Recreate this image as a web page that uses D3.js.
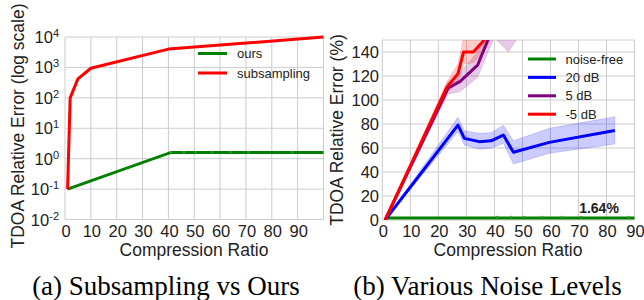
<!DOCTYPE html>
<html>
<head>
<meta charset="utf-8">
<script src="https://cdn.jsdelivr.net/npm/d3@7"></script>
<style>
  body { margin: 0; background: #fff; }
  text { font-family: "Liberation Sans", Arial, sans-serif; fill: #222; }
  .caption { font-family: "Liberation Serif", "Times New Roman", serif; fill: #000; }
</style>
</head>
<body>
<script>
const width = 644,
      height = 300;

// ---- data: (a) subsampling vs ours (log scale)
const subRatio = [1, 2, 5, 10, 40, 100];
const subError = [0.1, 100, 420, 940, 4000, 10000];
const oursRatio = [1, 41, 46, 50.5, 57, 64, 71, 88, 100];
const oursError = [0.1, 1.6, 1.6, 1.6, 1.6, 1.6, 1.6, 1.6, 1.6];
const logTickExp = [-2, -1, 0, 1, 2, 3, 4];
const xTicksA = [0, 10, 20, 30, 40, 50, 60, 70, 80, 90];

// ---- data: (b) various noise levels
const freeRatio = [1, 41, 46, 50.5, 57, 64, 71, 88, 95];
const freeError = [1.64, 1.64, 1.64, 1.64, 1.64, 1.64, 1.64, 1.64, 1.64];
const db20Ratio = [1, 27, 29.3, 34.6, 38.8, 43.2, 46.8, 59.6, 83];
const db20Error = [0, 79, 68, 65.3, 66, 70.8, 56.4, 64.7, 74.5];
const db20Low   = [0, 73.6, 62.5, 58.9, 59.7, 63.9, 46.7, 55.6, 63.3];
const db20High  = [0, 85.6, 74.4, 72.2, 72.8, 79, 66, 76.4, 86];
const db5Ratio = [1, 23.5, 27.8, 34, 37, 40, 45, 50];
const db5Error = [0, 110, 115.5, 129, 146, 165, 162, 172];
const db5Low   = [0, 105, 107, 119, 136, 152, 140, 158];
const db5High  = [0, 115, 123, 140, 158, 180, 182, 188];
const dbm5Ratio = [1, 23, 27, 29, 32.5, 36, 40];
const dbm5Error = [0, 110.5, 122, 140, 140, 149, 165];
const dbm5Low   = [0, 106, 115, 130, 131, 140, 155];
const dbm5High  = [0, 115, 130, 152, 153, 160, 176];
const xTicksB = [0, 10, 20, 30, 40, 50, 60, 70, 80, 90];
const yTicksB = [0, 20, 40, 60, 80, 100, 120, 140];

const svg = d3.select("body")
  .append("svg")
  .attr("width", width)
  .attr("height", height);

const grid = "#cccccc";

/* ------------- (a) ------------ */

const xA = d3.scaleLinear().domain([0, 100]).range([65, 323.5]);
const yA = d3.scaleLog().domain([1e-2, 1e4]).range([219.5, 37]);

const gA = svg.append("g");

gA.selectAll("line.vg").data(xTicksA.concat([100])).enter()
  .append("line")
  .attr("x1", d => xA(d)).attr("x2", d => xA(d))
  .attr("y1", yA.range()[0]).attr("y2", yA.range()[1])
  .style("stroke", grid).style("stroke-width", 1);

gA.selectAll("line.hg").data(logTickExp).enter()
  .append("line")
  .attr("x1", xA.range()[0]).attr("x2", xA.range()[1])
  .attr("y1", d => yA(Math.pow(10, d))).attr("y2", d => yA(Math.pow(10, d)))
  .style("stroke", grid).style("stroke-width", 1);

gA.selectAll("text.xt").data(xTicksA).enter()
  .append("text")
  .attr("x", d => xA(d) + 1)
  .attr("y", 237)
  .attr("text-anchor", "middle")
  .style("font-size", "16.5px")
  .text(d => d);

const ytA = gA.selectAll("text.yt").data(logTickExp).enter()
  .append("text")
  .attr("x", 59)
  .attr("y", d => yA(Math.pow(10, d)) + 6)
  .attr("text-anchor", "end")
  .style("font-size", "16.5px");
ytA.append("tspan").text("10");
ytA.append("tspan")
  .attr("dy", -6)
  .style("font-size", "11px")
  .text(d => d);

gA.append("text")
  .attr("transform", "translate(24," + 126 + ") rotate(-90)")
  .attr("text-anchor", "middle")
  .style("font-size", "17.5px")
  .text("TDOA Relative Error (log scale)");

gA.append("text")
  .attr("x", 194).attr("y", 256)
  .attr("text-anchor", "middle")
  .style("font-size", "17.5px")
  .text("Compression Ratio");

const lineA = d3.line().x(d => xA(d[0])).y(d => yA(d[1]));

gA.append("path")
  .datum(d3.zip(oursRatio, oursError))
  .attr("d", lineA)
  .style("fill", "none").style("stroke", "#008000").style("stroke-width", 3);

gA.selectAll("circle.om").data(d3.zip(oursRatio, oursError).slice(1, -1)).enter()
  .append("circle")
  .attr("cx", d => xA(d[0])).attr("cy", d => yA(d[1]) - 0.5)
  .attr("r", 1.3)
  .style("fill", "#3a9a3a");

gA.append("path")
  .datum(d3.zip(subRatio, subError))
  .attr("d", lineA)
  .style("fill", "none").style("stroke", "#ff0000").style("stroke-width", 3)
  .style("stroke-linejoin", "round");

const legA = [["ours", "#008000"], ["subsampling", "#ff0000"]];
legA.forEach((l, i) => {
  gA.append("line")
    .attr("x1", 198).attr("x2", 227)
    .attr("y1", 53.5 + i * 19.5).attr("y2", 53.5 + i * 19.5)
    .style("stroke", l[1]).style("stroke-width", 3);
  gA.append("text")
    .attr("x", 237).attr("y", 58 + i * 19.5)
    .style("font-size", "13px")
    .text(l[0]);
});

svg.append("text")
  .attr("class", "caption")
  .attr("x", 166).attr("y", 295)
  .attr("text-anchor", "middle")
  .style("font-size", "27px")
  .text("(a) Subsampling vs Ours");

/* ------------- (b) ------------ */

const xB = d3.scaleLinear().domain([0, 90]).range([382.3, 634.5]);
const yB = d3.scaleLinear().domain([0, 150]).range([220, 40]);

const gB = svg.append("g");

svg.append("defs").append("clipPath").attr("id", "clipB")
  .append("rect")
  .attr("x", xB.range()[0]).attr("y", yB.range()[1])
  .attr("width", xB.range()[1] - xB.range()[0])
  .attr("height", yB.range()[0] - yB.range()[1]);

gB.selectAll("line.vg").data(xTicksB).enter()
  .append("line")
  .attr("x1", d => xB(d)).attr("x2", d => xB(d))
  .attr("y1", yB.range()[0]).attr("y2", yB.range()[1])
  .style("stroke", grid).style("stroke-width", 1);

gB.selectAll("line.hg").data(yTicksB.concat([150])).enter()
  .append("line")
  .attr("x1", xB.range()[0]).attr("x2", xB.range()[1])
  .attr("y1", d => yB(d)).attr("y2", d => yB(d))
  .style("stroke", grid).style("stroke-width", 1);

gB.selectAll("text.xt").data(xTicksB).enter()
  .append("text")
  .attr("x", d => xB(d) + 1)
  .attr("y", 237)
  .attr("text-anchor", "middle")
  .style("font-size", "16.5px")
  .text(d => d);

gB.selectAll("text.yt").data(yTicksB).enter()
  .append("text")
  .attr("x", 379)
  .attr("y", d => yB(d) + 6)
  .attr("text-anchor", "end")
  .style("font-size", "16.5px")
  .text(d => d);

gB.append("text")
  .attr("transform", "translate(343," + 130 + ") rotate(-90)")
  .attr("text-anchor", "middle")
  .style("font-size", "17.5px")
  .text("TDOA Relative Error (%)");

gB.append("text")
  .attr("x", 508).attr("y", 256)
  .attr("text-anchor", "middle")
  .style("font-size", "17.5px")
  .text("Compression Ratio");

const lineB = d3.line().x(d => xB(d[0])).y(d => yB(d[1]));
const areaB = d3.area().x(d => xB(d[0])).y0(d => yB(d[1])).y1(d => yB(d[2]));

const plotB = gB.append("g").attr("clip-path", "url(#clipB)");

const series = [
  { ratio: db20Ratio, err: db20Error, lo: db20Low, hi: db20High, color: "#0000ff" },
  { ratio: db5Ratio, err: db5Error, lo: db5Low, hi: db5High, color: "#800080" },
  { ratio: dbm5Ratio, err: dbm5Error, lo: dbm5Low, hi: dbm5High, color: "#ff0000" }
];

series.forEach(s => {
  plotB.append("path")
    .datum(d3.zip(s.ratio, s.lo, s.hi))
    .attr("d", areaB)
    .style("fill", s.color).style("fill-opacity", 0.2)
    .style("stroke", s.color).style("stroke-opacity", 0.15);
});

plotB.append("path")
  .datum(d3.zip(freeRatio, freeError))
  .attr("d", lineB)
  .style("fill", "none").style("stroke", "#008000").style("stroke-width", 3);

plotB.selectAll("circle.fm").data(d3.zip(freeRatio, freeError).slice(1, -1)).enter()
  .append("circle")
  .attr("cx", d => xB(d[0])).attr("cy", d => yB(d[1]) - 1)
  .attr("r", 1.3)
  .style("fill", "#3a9a3a");

series.forEach(s => {
  plotB.append("path")
    .datum(d3.zip(s.ratio, s.err))
    .attr("d", lineB)
    .style("fill", "none").style("stroke", s.color).style("stroke-width", 3)
    .style("stroke-linejoin", "round");
});

gB.append("text")
  .attr("x", 599).attr("y", 213)
  .attr("text-anchor", "middle")
  .style("font-size", "14px")
  .style("font-weight", "bold")
  .text("1.64%");

const legB = [["noise-free", "#008000"], ["20 dB", "#0000ff"], ["5 dB", "#800080"], ["-5 dB", "#ff0000"]];
legB.forEach((l, i) => {
  gB.append("line")
    .attr("x1", 528).attr("x2", 556)
    .attr("y1", 59 + i * 18.4).attr("y2", 59 + i * 18.4)
    .style("stroke", l[1]).style("stroke-width", 3);
  gB.append("text")
    .attr("x", 565.5).attr("y", 63.5 + i * 18.4)
    .style("font-size", "13px")
    .text(l[0]);
});

svg.append("text")
  .attr("class", "caption")
  .attr("x", 487.5).attr("y", 295)
  .attr("text-anchor", "middle")
  .style("font-size", "27px")
  .text("(b) Various Noise Levels");
</script>
</body>
</html>
